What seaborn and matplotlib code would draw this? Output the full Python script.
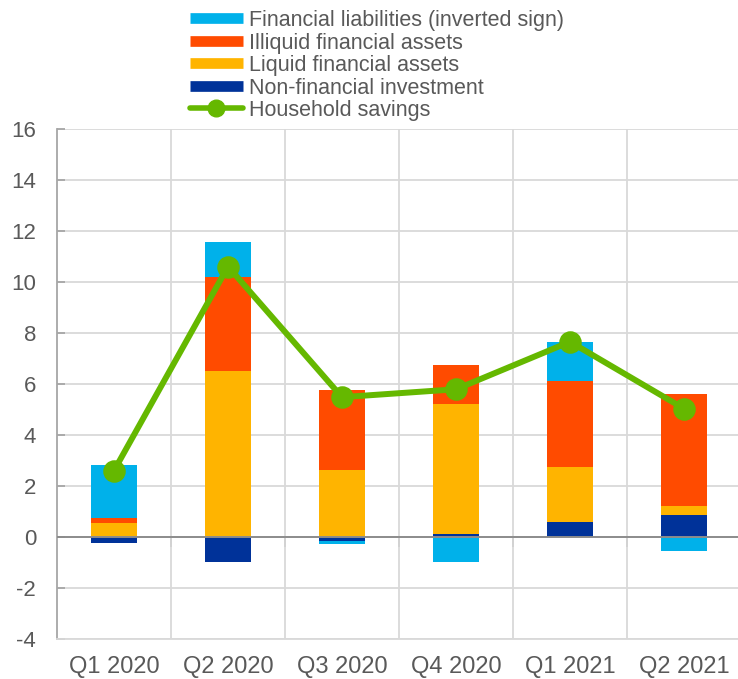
import numpy as np
import pandas as pd
import matplotlib
matplotlib.use("Agg")
import matplotlib.pyplot as plt
from matplotlib.lines import Line2D
import seaborn as sns

quarters = ["Q1 2020", "Q2 2020", "Q3 2020", "Q4 2020", "Q1 2021", "Q2 2021"]
nonfin_invest = [-0.22, -0.96, -0.15, 0.12, 0.59, 0.87]
liquid_assets = [0.57, 6.52, 2.64, 5.10, 2.15, 0.37]
illiquid_assets = [0.17, 3.66, 3.14, 1.55, 3.39, 4.37]
liabilities_inv = [2.09, 1.39, -0.11, -0.97, 1.53, -0.55]
household_savings = [2.61, 10.61, 5.49, 5.80, 7.66, 5.04]

series_names = ["Non-financial investment", "Liquid financial assets",
                "Illiquid financial assets", "Financial liabilities (inverted sign)"]
series_vals = [nonfin_invest, liquid_assets, illiquid_assets, liabilities_inv]
series_colors = ["#003299", "#FFB400", "#FF4B00", "#00B1EA"]
green = "#65B800"
text_col = "#595959"

sns.set_theme(style="white")
plt.rcParams["font.family"] = ["Liberation Sans", "DejaVu Sans"]
plt.rcParams["axes.unicode_minus"] = False

fig = plt.figure(figsize=(7.38, 6.79), dpi=100)
ax = fig.add_axes([57 / 738, 39.7 / 679, 684 / 738, 510.3 / 679])

vals = np.array(series_vals, dtype=float)
pos = np.where(vals > 0, vals, 0).cumsum(axis=0)
neg = np.where(vals < 0, vals, 0).cumsum(axis=0)

# overdraw cumulative stacks, top layer first
for i in range(len(series_names) - 1, -1, -1):
    df = pd.DataFrame({"q": quarters, "p": pos[i], "n": neg[i]})
    sns.barplot(data=df, x="q", y="p", order=quarters, color=series_colors[i],
                saturation=1, width=0.4, ax=ax, linewidth=0, zorder=2)
    sns.barplot(data=df, x="q", y="n", order=quarters, color=series_colors[i],
                saturation=1, width=0.4, ax=ax, linewidth=0, zorder=2)

sav_df = pd.DataFrame({"q": quarters, "s": household_savings})
sns.pointplot(data=sav_df, x="q", y="s", order=quarters, color=green,
              markers="o", markersize=13, linewidth=4.3, ax=ax, zorder=5)

ax.set_xlim(-0.5, 5.5)
ax.set_ylim(-4, 16)
ax.set_yticks(np.arange(-4, 17, 2))
ax.set_xlabel("")
ax.set_ylabel("")

ax.set_xticks(np.arange(0.5, 5.5, 1), minor=True)
ax.grid(axis="y", which="major", color="#d9d9d9", linewidth=1.3, zorder=0)
ax.grid(axis="x", which="minor", color="#d9d9d9", linewidth=1.3, zorder=0)
ax.grid(axis="x", which="major", visible=False)
ax.set_axisbelow(True)

for s in ["top", "right"]:
    ax.spines[s].set_visible(False)
ax.spines["left"].set_color("#a6a6a6")
ax.spines["left"].set_linewidth(1.3)
ax.spines["bottom"].set_color("#d9d9d9")
ax.spines["bottom"].set_linewidth(1.3)

ax.tick_params(axis="y", which="major", direction="in", length=6, width=1.3,
               color="#a6a6a6", labelsize=16, labelcolor=text_col, pad=15, left=True)
ax.tick_params(axis="x", which="both", length=0, labelsize=17, labelcolor=text_col, pad=12)

ax.axhline(0, color="#8c8c8c", linewidth=1.4, zorder=3)
sec = ax.secondary_xaxis(0.2)
sec.set_xticks(np.arange(0.5, 5.5, 1))
sec.set_xticklabels([])
sec.tick_params(direction="out", length=7, width=1.3, color="#8c8c8c")
sec.spines["bottom"].set_visible(False)

handles = [Line2D([], [], color=series_colors[3], lw=7.7, solid_capstyle="butt"),
           Line2D([], [], color=series_colors[2], lw=7.7, solid_capstyle="butt"),
           Line2D([], [], color=series_colors[1], lw=7.7, solid_capstyle="butt"),
           Line2D([], [], color=series_colors[0], lw=7.7, solid_capstyle="butt"),
           Line2D([], [], color=green, lw=4, marker="o", markersize=12)]
labels = [series_names[3], series_names[2], series_names[1], series_names[0], "Household savings"]
leg = fig.legend(handles, labels, loc="upper left", bbox_to_anchor=(190 / 738, 1 - 10 / 679),
                 frameon=False, fontsize=15.5, handlelength=2.45, handletextpad=0.28,
                 labelspacing=0.07, borderpad=0, borderaxespad=0)
for t in leg.get_texts():
    t.set_color(text_col)

fig.savefig("out.png", dpi=100)
